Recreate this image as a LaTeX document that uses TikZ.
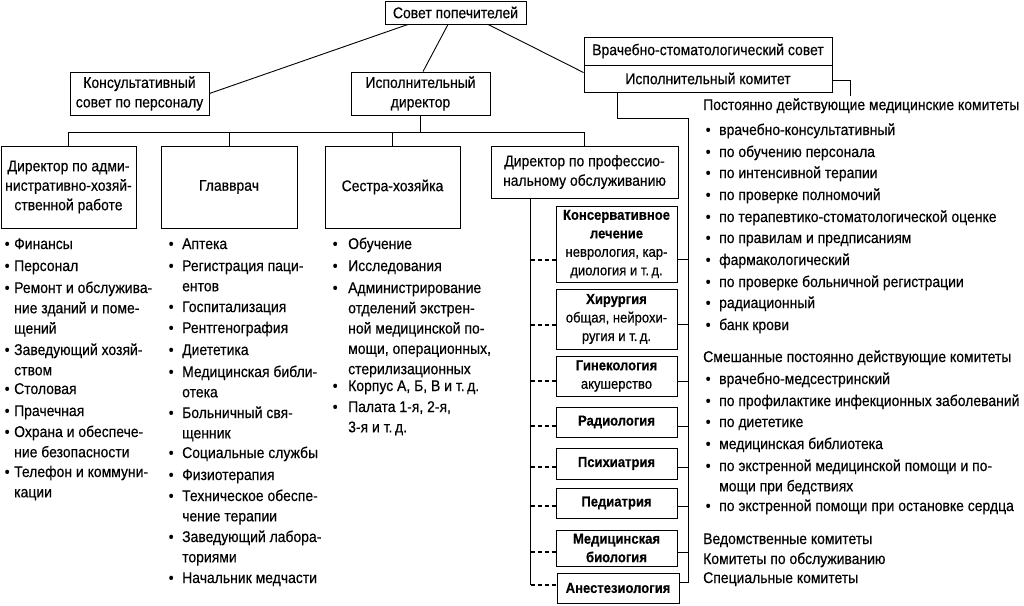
\documentclass[tikz,border=0pt]{standalone}
\usepackage{fontspec}
\setmainfont{Liberation Sans}[FakeStretch=0.9, FakeBold=0.4]
\usetikzlibrary{calc}
\newcommand\fsn{\fontsize{15.5}{20.3}\selectfont}
\newcommand\fsb{\fontsize{15.5}{19.5}\selectfont}
\newcommand\fsd{\fontsize{14.5}{18.5}\selectfont}
\newcommand\bitem[2]{\makebox[#1pt][l]{•}\begin{tabular}[t]{@{}l@{}}#2\end{tabular}}
\begin{document}
\begin{tikzpicture}[x=1pt,y=-1pt,
  bx/.style={draw, line width=0.9pt, inner sep=0pt, align=center, font=\fsb},
  dp/.style={draw, line width=0.9pt, inner sep=0pt, align=center, font=\fsd, minimum width=121pt},
  ln/.style={line width=0.9pt},
  dsh/.style={line width=1.7pt, dash pattern=on 4pt off 3pt},
  it/.style={anchor=base west, inner sep=0pt, font=\fsn, align=left}]
\useasboundingbox (0,0) rectangle (1024,605);
% top boxes
\node[bx, minimum width=141pt, minimum height=23pt] (sovet) at (455.5,12.5) {Совет попечителей};
\node[bx, minimum width=139pt, minimum height=43pt] (konsult) at (139.5,93.5) {Консультативный\\совет по персоналу};
\node[bx, minimum width=139pt, minimum height=43pt] (ispdir) at (420.5,93.5) {Исполнительный\\директор};
\node[bx, minimum width=248pt, minimum height=28pt] (vrach) at (708,51) {Врачебно-стоматологический совет};
\node[bx, minimum width=248pt, minimum height=27pt] (ispkom) at (708,78.5) {Исполнительный комитет};
% second row
\node[bx, minimum width=135pt, minimum height=82pt] (dir1) at (68.5,187) {Директор по адми-\\нистративно-хозяй-\\ственной работе};
\node[bx, minimum width=136pt, minimum height=82pt] (glav) at (229,187) {Главврач};
\node[bx, minimum width=135pt, minimum height=82pt] (sestra) at (392.5,187) {Сестра-хозяйка};
\node[bx, minimum width=187pt, minimum height=52pt] (dirprof) at (584.5,172) {Директор по профессио-\\нальному обслуживанию};
% departments
\node[dp, minimum height=76pt] (kons) at (616.5,244) {\textbf{Консервативное}\\\textbf{лечение}\\неврология, кар-\\диология и т.\,д.};
\node[dp, minimum height=60pt] (hir) at (616.5,319) {\textbf{Хирургия}\\общая, нейрохи-\\ругия и т.\,д.};
\node[dp, minimum height=40pt] (gin) at (616.5,376) {\textbf{Гинекология}\\акушерство};
\node[dp, minimum height=30pt] (rad) at (616.5,422) {\textbf{Радиология}};
\node[dp, minimum height=31pt] (psi) at (616.5,463.5) {\textbf{Психиатрия}};
\node[dp, minimum height=30pt] (ped) at (616.5,503) {\textbf{Педиатрия}};
\node[dp, minimum height=36pt] (medbio) at (616.5,548) {\textbf{Медицинская}\\\textbf{биология}};
\node[dp, minimum height=30pt, minimum width=122pt] (anest) at (618,588) {\textbf{Анестезиология}};
% connectors top
\draw[ln] ($(sovet.south)+(-47.5,0)$) -- (konsult.east);
\draw[ln] ($(sovet.south)+(-7.5,0)$) -- ($(ispdir.north)+(2.5,0)$);
\draw[ln] ($(sovet.south)+(32.5,0)$) -- ($(ispkom.north west)+(0,8)$);
\coordinate (bus) at (0,132);
\draw[ln] (ispdir.south) -- (ispdir.south |- bus);
\draw[ln] (dir1.north) -- (dir1.north |- bus) -- (dirprof.north |- bus) -- (dirprof.north);
\draw[ln] (glav.north) -- (glav.north |- bus);
\draw[ln] (sestra.north) -- (sestra.north |- bus);
\coordinate (rt) at (850,96);
\draw[ln] ($(ispkom.east)+(0,1.5)$) -| (rt);
% department connectors
\foreach \n/\o in {kons/15,hir/5,gin/5,rad/4,psi/3.5,ped/3,medbio/4,anest/-6}{
  \coordinate (\n-r) at ($(\n.east)+(0,\o)$);
}
\foreach \n/\o in {kons/16,hir/6,gin/5,rad/4,psi/3.5,ped/3,medbio/4,anest/-3}{
  \coordinate (\n-l) at ($(\n.west)+(0,\o)$);
}
\coordinate (rv) at (688,118);
\draw[ln] ($(ispkom.south west)+(34,0)$) |- (rv) -- (rv |- anest-r) -- (anest-r);
\foreach \n in {kons,hir,gin,rad,psi,ped,medbio}{
  \draw[ln] (\n-r) -- (rv |- \n-r);
}
\coordinate (lv) at ($(dirprof.south west)+(40,0)$);
\draw[ln] (lv) -- (lv |- anest-l);
\foreach \n in {kons,hir,gin,rad,psi,ped,medbio,anest}{
  \draw[dsh] (lv |- \n-l) -- (\n-l);
}
% column 1
\node[it] (a1) at (4.5,249) {\bitem{9.5}{Финансы}};
\node[it] (a2) at (4.5,271) {\bitem{9.5}{Персонал}};
\node[it] (a3) at (4.5,293) {\bitem{9.5}{Ремонт и обслужива-\\ние зданий и поме-\\щений}};
\node[it] (a4) at (4.5,355) {\bitem{9.5}{Заведующий хозяй-\\ством}};
\node[it] (a5) at (4.5,394) {\bitem{9.5}{Столовая}};
\node[it] (a6) at (4.5,416) {\bitem{9.5}{Прачечная}};
\node[it] (a7) at (4.5,437) {\bitem{9.5}{Охрана и обеспече-\\ние безопасности}};
\node[it] (a8) at (4.5,477) {\bitem{9.5}{Телефон и коммуни-\\кации}};
% column 2
\node[it] (b1) at (168.5,249) {\bitem{13.5}{Аптека}};
\node[it] (b2) at (168.5,271) {\bitem{13.5}{Регистрация паци-\\ентов}};
\node[it] (b3) at (168.5,312) {\bitem{13.5}{Госпитализация}};
\node[it] (b4) at (168.5,333) {\bitem{13.5}{Рентгенография}};
\node[it] (b5) at (168.5,355) {\bitem{13.5}{Диететика}};
\node[it] (b6) at (168.5,377) {\bitem{13.5}{Медицинская библи-\\отека}};
\node[it] (b7) at (168.5,418) {\bitem{13.5}{Больничный свя-\\щенник}};
\node[it] (b8) at (168.5,458) {\bitem{13.5}{Социальные службы}};
\node[it] (b9) at (168.5,480) {\bitem{13.5}{Физиотерапия}};
\node[it] (b10) at (168.5,501) {\bitem{13.5}{Техническое обеспе-\\чение терапии}};
\node[it] (b11) at (168.5,542) {\bitem{13.5}{Заведующий лабора-\\ториями}};
\node[it] (b12) at (168.5,583) {\bitem{13.5}{Начальник медчасти}};
% column 3
\node[it] (c1) at (332.5,249) {\bitem{15.5}{Обучение}};
\node[it] (c2) at (332.5,271) {\bitem{15.5}{Исследования}};
\node[it] (c3) at (332.5,293) {\bitem{15.5}{Администрирование\\отделений экстрен-\\ной медицинской по-\\мощи, операционных,\\стерилизационных}};
\node[it] (c4) at (332.5,391) {\bitem{15.5}{Корпус А, Б, В и т.\,д.}};
\node[it] (c5) at (332.5,412) {\bitem{15.5}{Палата 1-я, 2-я,\\3-я и т.\,д.}};
% right column
\node[it] (h1) at (703,110) {Постоянно действующие медицинские комитеты};
\node[it] (r1) at (705.5,135) {\bitem{13.5}{врачебно-консультативный}};
\node[it] (r2) at (705.5,157) {\bitem{13.5}{по обучению персонала}};
\node[it] (r3) at (705.5,178) {\bitem{13.5}{по интенсивной терапии}};
\node[it] (r4) at (705.5,200) {\bitem{13.5}{по проверке полномочий}};
\node[it] (r5) at (705.5,222) {\bitem{13.5}{по терапевтико-стоматологической оценке}};
\node[it] (r6) at (705.5,243) {\bitem{13.5}{по правилам и предписаниям}};
\node[it] (r7) at (705.5,265) {\bitem{13.5}{фармакологический}};
\node[it] (r8) at (705.5,287) {\bitem{13.5}{по проверке больничной регистрации}};
\node[it] (r9) at (705.5,308) {\bitem{13.5}{радиационный}};
\node[it] (r10) at (705.5,330) {\bitem{13.5}{банк крови}};
\node[it] (h2) at (703,362) {Смешанные постоянно действующие комитеты};
\node[it] (s1) at (705.5,384) {\bitem{13.5}{врачебно-медсестринский}};
\node[it] (s2) at (705.5,406) {\bitem{13.5}{по профилактике инфекционных заболеваний}};
\node[it] (s3) at (705.5,427) {\bitem{13.5}{по диететике}};
\node[it] (s4) at (705.5,449) {\bitem{13.5}{медицинская библиотека}};
\node[it] (s5) at (705.5,471) {\bitem{13.5}{по экстренной медицинской помощи и по-\\мощи при бедствиях}};
\node[it] (s6) at (705.5,511) {\bitem{13.5}{по экстренной помощи при остановке сердца}};
\node[it] (h3) at (703,544) {Ведомственные комитеты};
\node[it] (h4) at (703,564) {Комитеты по обслуживанию};
\node[it] (h5) at (703,583) {Специальные комитеты};
\end{tikzpicture}
\end{document}
